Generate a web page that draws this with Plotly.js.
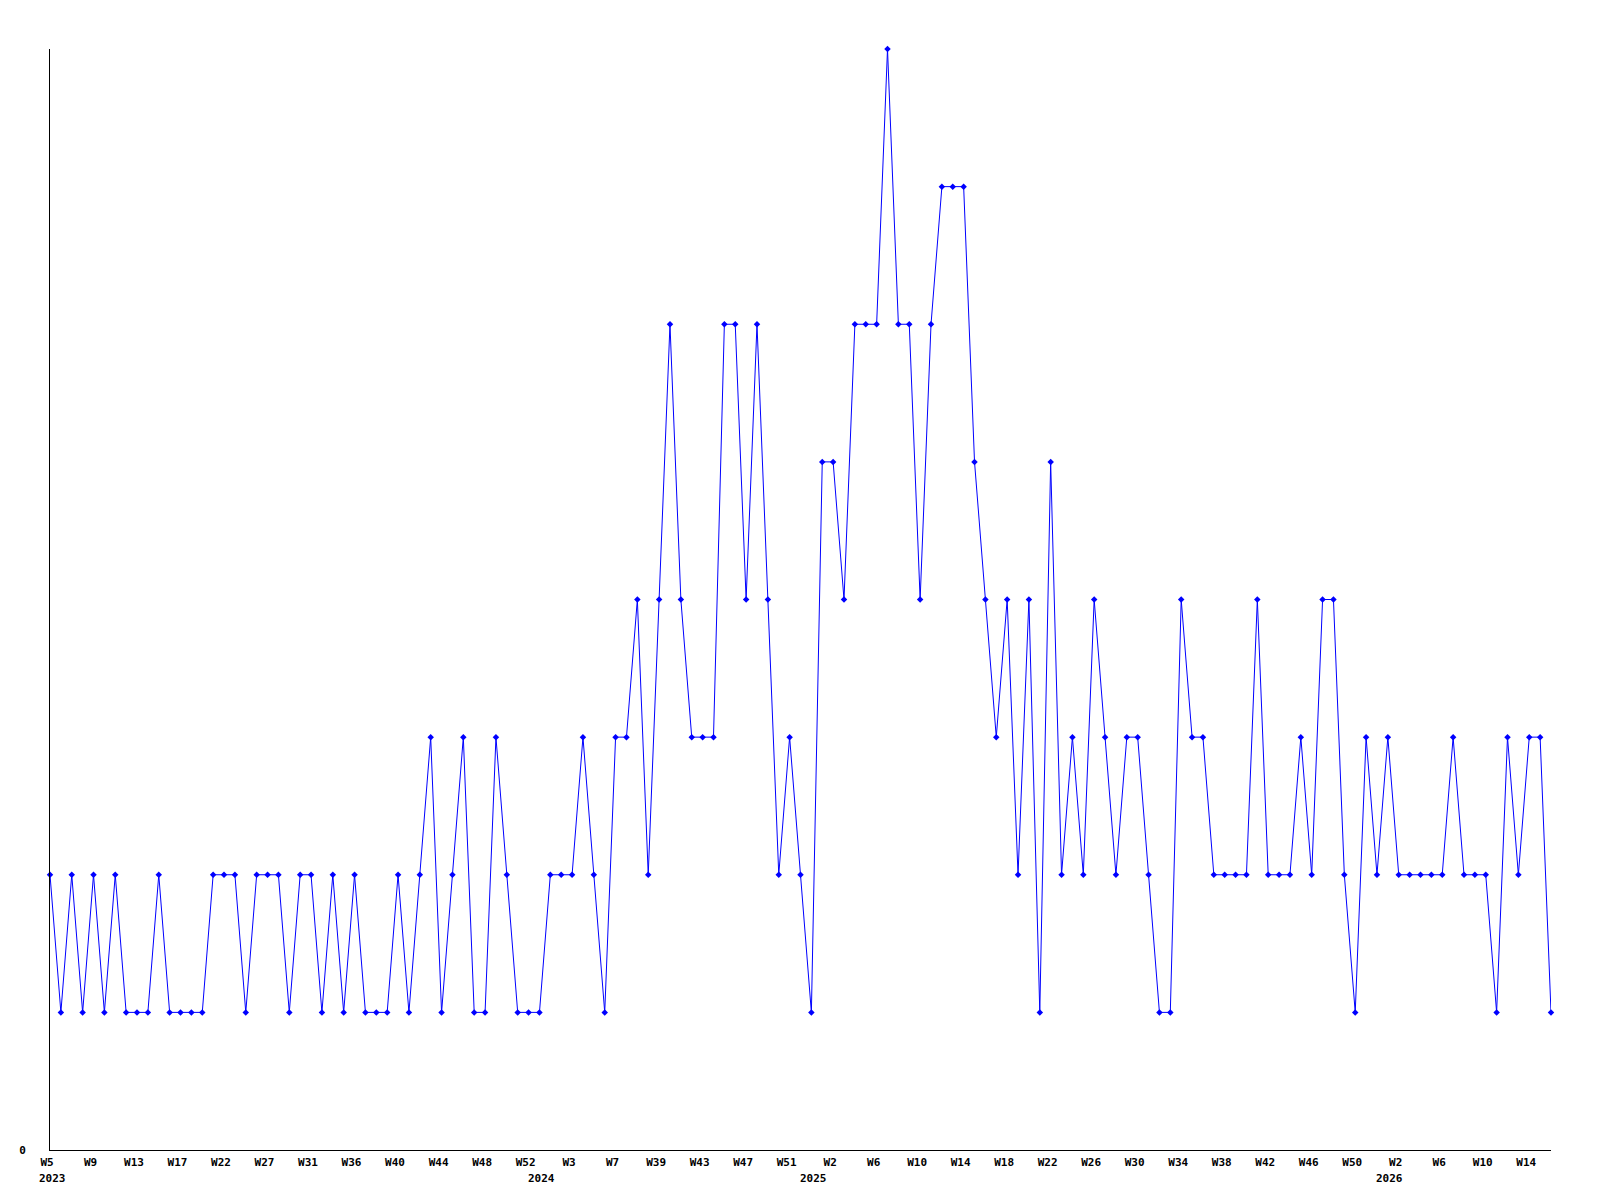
<!DOCTYPE html>
<html>
<head>
<meta charset="utf-8">
<script src="https://cdn.plot.ly/plotly-3.0.1.min.js"></script>
<style>
  html, body { margin: 0; padding: 0; background: #ffffff; }
  #chart { width: 1600px; height: 1200px; }
</style>
</head>
<body>
<div id="chart"></div>
<script>
// Weekly counts, one value per point
const counts = [
  2,1,2,1,2,1,2,1,1,1,2,1,1,1,1,2,2,2,1,2,2,2,1,2,2,1,2,
  1,2,1,1,1,2,1,2,3,1,2,3,1,1,3,2,1,1,1,2,2,2,3,2,1,3,3,
  4,2,4,6,4,3,3,3,6,6,4,6,4,2,3,2,1,5,5,4,6,6,6,8,6,6,4,
  6,7,7,7,5,4,3,4,2,4,1,5,2,3,2,4,3,2,3,3,2,1,1,4,3,3,
  2,2,2,2,4,2,2,2,3,2,4,4,2,1,3,2,3,2,2,2,2,2,3,2,2,2,1,3,2,3,3,1
];

// Week labels shown on the x axis (every 4th point)
const weekLabels = ['W5','W9','W13','W17','W22','W27','W31','W36','W40','W44','W48','W52',
  'W3','W7','W39','W43','W47','W51','W2','W6','W10','W14','W18','W22','W26','W30','W34',
  'W38','W42','W46','W50','W2','W6','W10','W14'];
const weekLabelStep = 4;

// Year labels and the point index where each year starts
const yearLabels = ['2023','2024','2025','2026'];
const yearStartIndex = [0, 45, 70, 123];

const xs = counts.map((v, i) => i);
const tickVals = weekLabels.map((t, i) => i * weekLabelStep);

const labelFont = { family: 'DejaVu Sans Mono, Liberation Mono, monospace', size: 11, color: '#000000', weight: 'bold' };

const trace = {
  type: 'scatter',
  mode: 'lines+markers',
  x: xs,
  y: counts,
  line: { color: '#0000ff', width: 1 },
  marker: { color: '#0000ff', size: 5, symbol: 'diamond' },
  cliponaxis: false,
  hoverinfo: 'x+y'
};

const annotations = yearLabels.map((t, i) => ({
  x: yearStartIndex[i], xref: 'x',
  y: 0, yref: 'paper',
  yanchor: 'top', xanchor: 'center',
  yshift: -20, xshift: 2,
  text: t, showarrow: false,
  font: labelFont
}));

const layout = {
  width: 1600, height: 1200,
  margin: { l: 50, r: 49, t: 49, b: 50, pad: 0 },
  paper_bgcolor: '#ffffff',
  plot_bgcolor: '#ffffff',
  showlegend: false,
  xaxis: {
    range: [0, counts.length - 1],
    tickmode: 'array',
    tickvals: tickVals,
    ticktext: weekLabels,
    ticks: '',
    showgrid: false,
    zeroline: false,
    showline: true,
    linecolor: '#000000',
    linewidth: 1,
    tickfont: labelFont,
    tickangle: 0,
    ticklabelshift: -3,
    ticklabelstandoff: 2
  },
  yaxis: {
    range: [0, 8],
    tickmode: 'array',
    tickvals: [0],
    ticktext: ['0'],
    ticks: '',
    showgrid: false,
    zeroline: false,
    showline: true,
    linecolor: '#000000',
    linewidth: 1,
    tickfont: labelFont,
    ticklabelstandoff: 21
  },
  annotations: annotations
};

Plotly.newPlot('chart', [trace], layout, { displayModeBar: false, staticPlot: true });
</script>
</body>
</html>
